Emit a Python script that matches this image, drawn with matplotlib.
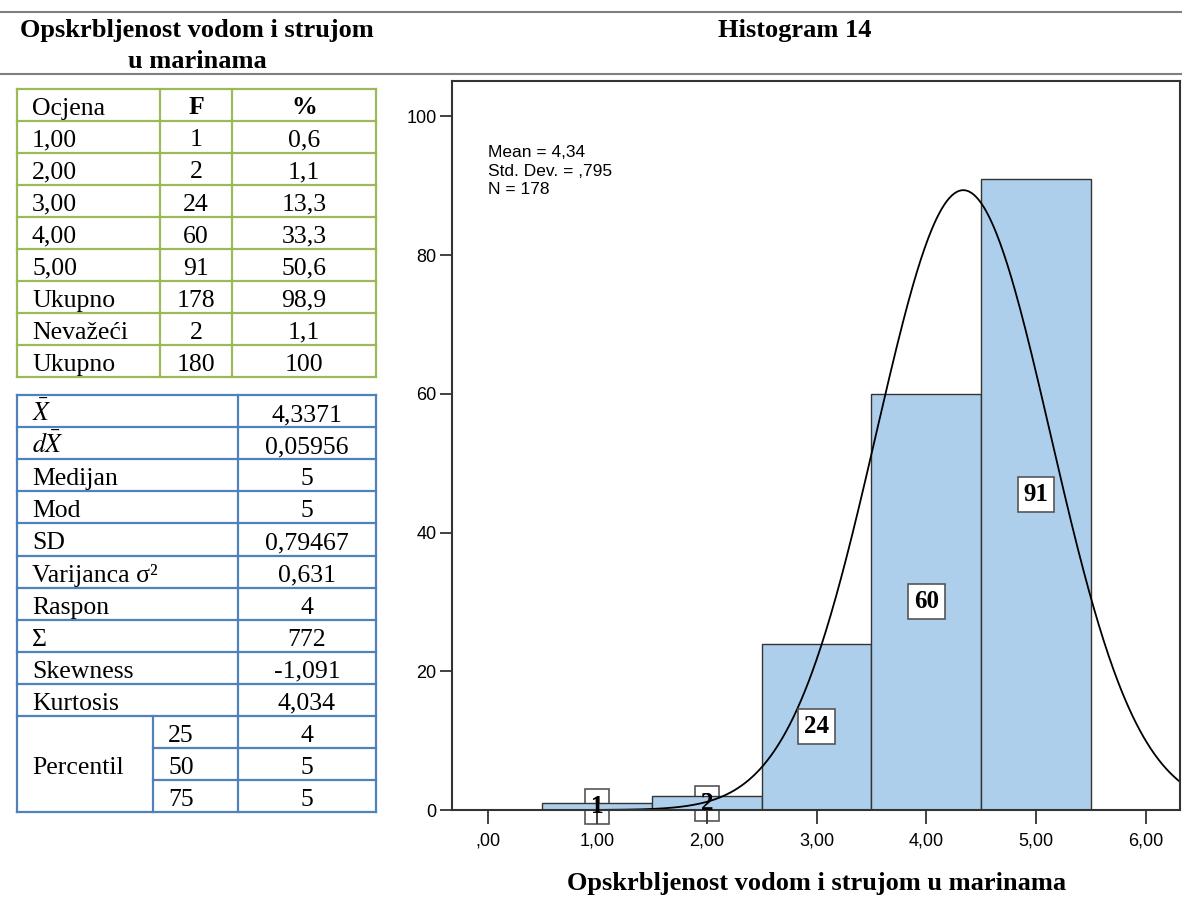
import numpy as np
import matplotlib
matplotlib.use('Agg')
import matplotlib.pyplot as plt

plt.rcParams['mathtext.fontset'] = 'stix'

W, H = 1182, 905
SERIF = 'Liberation Serif'
SANS = 'Liberation Sans'

# frequency table
ocjena = ['1,00', '2,00', '3,00', '4,00', '5,00', 'Ukupno', 'Nevažeći', 'Ukupno']
freq = ['1', '2', '24', '60', '91', '178', '2', '180']
postotak = ['0,6', '1,1', '13,3', '33,3', '50,6', '98,9', '1,1', '100']

# descriptive statistics table
stat_names = [r'$\bar{X}$', r'$d\bar{X}$', 'Medijan', 'Mod', 'SD', 'Varijanca σ²',
              'Raspon', 'Σ', 'Skewness', 'Kurtosis']
stat_values = ['4,3371', '0,05956', '5', '5', '0,79467', '0,631', '4', '772', '-1,091', '4,034']
percentili = ['25', '50', '75']
percentil_values = ['4', '5', '5']

# histogram
scores = [1, 2, 3, 4, 5]
counts = [1, 2, 24, 60, 91]
mean, sd, n = 4.3371, 0.79467, 178
xticks = [0, 1, 2, 3, 4, 5, 6]
xticklabels = [',00', '1,00', '2,00', '3,00', '4,00', '5,00', '6,00']
yticks = [0, 20, 40, 60, 80, 100]
stats_box = 'Mean = 4,34\nStd. Dev. = ,795\nN = 178'

fig = plt.figure(figsize=(W / 100, H / 100), dpi=100)

# background axes in pixel coords for headers and tables
bg = fig.add_axes([0, 0, 1, 1])
bg.set_xlim(0, W)
bg.set_ylim(H, 0)
bg.axis('off')

bg.plot([0, W], [12, 12], color='#7f7f7f', lw=1.5)
bg.plot([0, W], [74, 74], color='#7f7f7f', lw=1.5)
bg.text(197, 37, 'Opskrbljenost vodom i strujom', ha='center', va='baseline',
        fontsize=19, weight='bold', family=SERIF)
bg.text(197, 68, 'u marinama', ha='center', va='baseline',
        fontsize=19, weight='bold', family=SERIF)
bg.text(795, 37, 'Histogram 14', ha='center', va='baseline',
        fontsize=19, weight='bold', family=SERIF)

# green frequency table
green = '#9BBB59'
gx = [17, 160, 232, 376]
gy0, rh = 89, 32
nrows = len(ocjena) + 1
for i in range(nrows + 1):
    bg.plot([gx[0], gx[-1]], [gy0 + i * rh, gy0 + i * rh], color=green, lw=1.6)
for x in gx:
    bg.plot([x, x], [gy0, gy0 + nrows * rh], color=green, lw=1.6)

fs = 18.5
bg.text(32, gy0 + 25.5, 'Ocjena', ha='left', va='baseline', fontsize=fs, family=SERIF)
bg.text(196, gy0 + 25.5, 'F', ha='center', va='baseline', fontsize=fs, family=SERIF, weight='bold')
bg.text(304, gy0 + 25.5, '%', ha='center', va='baseline', fontsize=fs, family=SERIF, weight='bold')
for i, (o, f, p) in enumerate(zip(ocjena, freq, postotak)):
    yb = gy0 + (i + 1) * rh + 25.5
    bg.text(32, yb, o, ha='left', va='baseline', fontsize=fs, family=SERIF)
    bg.text(196, yb, f, ha='center', va='baseline', fontsize=fs, family=SERIF)
    bg.text(304, yb, p, ha='center', va='baseline', fontsize=fs, family=SERIF)

# blue statistics table
blue = '#4F81BD'
bx = [17, 153, 238, 376]
by0, rh2 = 395, 32.1
nstat = len(stat_names)
ntot = nstat + len(percentili)
for i in range(ntot + 1):
    x0 = bx[1] if nstat < i < ntot else bx[0]
    bg.plot([x0, bx[-1]], [by0 + i * rh2, by0 + i * rh2], color=blue, lw=1.6)
for x in [bx[0], bx[2], bx[3]]:
    bg.plot([x, x], [by0, by0 + ntot * rh2], color=blue, lw=1.6)
bg.plot([bx[1], bx[1]], [by0 + nstat * rh2, by0 + ntot * rh2], color=blue, lw=1.6)

for i, (name, val) in enumerate(zip(stat_names, stat_values)):
    yb = by0 + i * rh2 + 26
    bg.text(32, yb, name, ha='left', va='baseline', fontsize=fs, family=SERIF)
    bg.text(307, yb, val, ha='center', va='baseline', fontsize=fs, family=SERIF)
for j, (p, val) in enumerate(zip(percentili, percentil_values)):
    yb = by0 + (nstat + j) * rh2 + 26
    bg.text(168, yb, p, ha='left', va='baseline', fontsize=fs, family=SERIF)
    bg.text(307, yb, val, ha='center', va='baseline', fontsize=fs, family=SERIF)
bg.text(32, by0 + (nstat + 1) * rh2 + 26, 'Percentil', ha='left', va='baseline',
        fontsize=fs, family=SERIF)

# histogram
ax = fig.add_axes([452 / W, 1 - 810 / H, (1180 - 452) / W, (810 - 81) / H])
ax.bar(scores, counts, width=1.0, color='#ADCFEC', edgecolor='#333333', linewidth=1, zorder=1)
xs = np.linspace(-0.4, 6.4, 600)
ax.plot(xs, n * np.exp(-0.5 * ((xs - mean) / sd) ** 2) / (sd * np.sqrt(2 * np.pi)),
        color='black', lw=1.3, zorder=2)
box = dict(boxstyle='square,pad=0.24', fc='white', ec='#555555', lw=1.2)
for s, c in zip(scores, counts):
    # tiny bars: the label box sits behind the bar and the curve
    if c < 5:
        ax.text(s, c / 2, str(c), ha='center', va='center', fontsize=18, weight='bold',
                family=SERIF, zorder=0.5, bbox=box)
        ax.text(s, c / 2, str(c), ha='center', va='center', fontsize=18, weight='bold',
                family=SERIF, zorder=5)
    else:
        ax.text(s, c / 2, str(c), ha='center', va='center', fontsize=18, weight='bold',
                family=SERIF, zorder=5, bbox=box)
ax.set_xlim(-0.324, 6.313)
ax.set_ylim(0, 105.1)
ax.set_xticks(xticks, xticklabels)
ax.set_yticks(yticks)
for lab in ax.get_xticklabels() + ax.get_yticklabels():
    lab.set_family(SANS)
ax.tick_params(direction='out', length=10, width=1.3, labelsize=13, color='#333333')
ax.tick_params(axis='x', pad=6)
ax.tick_params(axis='y', pad=2, length=9)
for sp in ax.spines.values():
    sp.set_color('#333333')
    sp.set_linewidth(1.5)
ax.text(0.049, 0.912, stats_box, transform=ax.transAxes, ha='left', va='top',
        fontsize=12.5, family=SANS, linespacing=1.3)

bg.text(817, 890, 'Opskrbljenost vodom i strujom u marinama', ha='center', va='baseline',
        fontsize=19, weight='bold', family=SERIF)

fig.savefig('out.png', dpi=100)
